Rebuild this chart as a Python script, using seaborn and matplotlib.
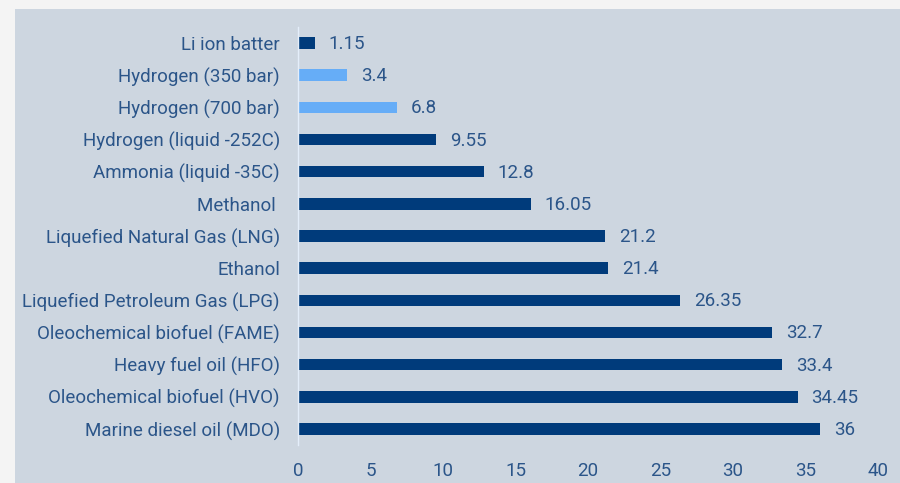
import matplotlib
matplotlib.use("Agg")
import matplotlib.pyplot as plt
import seaborn as sns
import pandas as pd
from matplotlib.patches import Rectangle

# data
fuels = [
    "Li ion batter",
    "Hydrogen (350 bar)",
    "Hydrogen (700 bar)",
    "Hydrogen (liquid -252C)",
    "Ammonia (liquid -35C)",
    "Methanol ",
    "Liquefied Natural Gas (LNG)",
    "Ethanol",
    "Liquefied Petroleum Gas (LPG)",
    "Oleochemical biofuel (FAME)",
    "Heavy fuel oil (HFO)",
    "Oleochemical biofuel (HVO)",
    "Marine diesel oil (MDO)",
]
values = [1.15, 3.4, 6.8, 9.55, 12.8, 16.05, 21.2, 21.4, 26.35, 32.7, 33.4, 34.45, 36]
value_labels = ["1.15", "3.4", "6.8", "9.55", "12.8", "16.05", "21.2", "21.4",
                "26.35", "32.7", "33.4", "34.45", "36"]
highlight = ["Hydrogen (350 bar)", "Hydrogen (700 bar)"]

NAVY = "#003b7b"
LIGHT = "#66adf7"
PANEL = "#cdd6e0"
TEXT = "#2b5589"
FS = 13.5

df = pd.DataFrame({"fuel": fuels, "value": values})
palette = {f: (LIGHT if f in highlight else NAVY) for f in fuels}

sns.set_theme(style="white")
plt.rcParams["font.family"] = ["Roboto", "DejaVu Sans"]

fig = plt.figure(figsize=(9, 4.83), dpi=100)
fig.patch.set_facecolor("#f4f4f4")
# light panel behind the chart, leaving a thin grey margin top and left
fig.patches.append(Rectangle((15 / 900, 0), 1, 1 - 9 / 483, transform=fig.transFigure,
                             facecolor=PANEL, edgecolor="none", zorder=-10))

ax = fig.add_axes([298 / 900, 38 / 483, 580 / 900, 418 / 483])
ax.set_facecolor("none")

sns.barplot(data=df, y="fuel", x="value", hue="fuel", palette=palette,
            order=fuels, width=0.36, legend=False, saturation=1,
            linewidth=0, ax=ax)

for i, (v, lab) in enumerate(zip(values, value_labels)):
    ax.text(v + 0.95, i + 0.03, lab, va="center", ha="left", fontsize=FS, color=TEXT)

ax.set_xlim(0, 40)
ax.set_ylim(12.5, -0.5)
ax.set_xticks(range(0, 41, 5))
ax.set_xlabel("")
ax.set_ylabel("")
for s in ["top", "right", "bottom"]:
    ax.spines[s].set_visible(False)
ax.spines["left"].set_color("#e4eefa")
ax.spines["left"].set_linewidth(1)
ax.tick_params(axis="both", length=0, labelsize=FS, labelcolor=TEXT)
ax.tick_params(axis="x", pad=12)
ax.tick_params(axis="y", pad=13)

fig.savefig("out.png", dpi=100, facecolor=fig.get_facecolor())
